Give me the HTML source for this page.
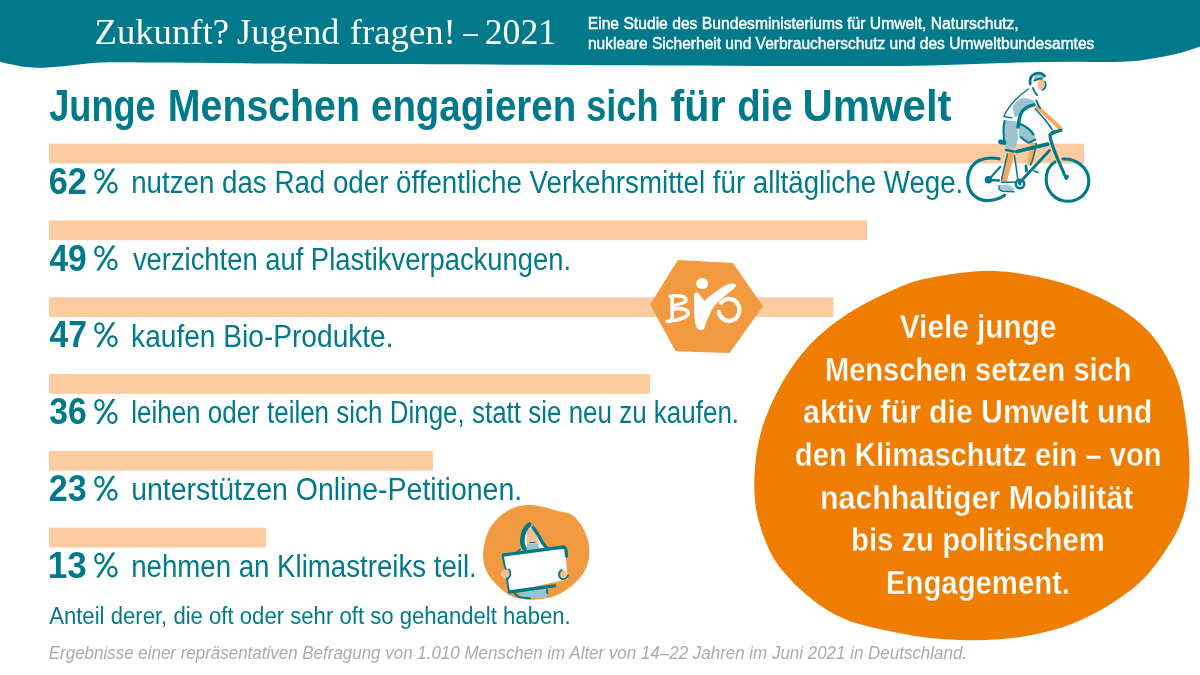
<!DOCTYPE html>
<html><head><meta charset="utf-8">
<style>
html,body{margin:0;padding:0;background:#fff;}
body{width:1200px;height:675px;overflow:hidden;position:relative;font-family:"Liberation Sans",sans-serif;}
svg{position:absolute;left:0;top:0;display:block;will-change:transform;}
</style></head><body>
<svg width="1200" height="675" viewBox="0 0 1200 675">
<path d="M0,0 H1200 V46.5 C1186,52 1166,57 1140,60.5 C1120,62.5 1100,62.3 1080,61.7 C1040,61.5 1000,63 960,64.4 C920,66 880,66 840,66 C700,66 500,64.5 360,64 C280,63.8 200,63 150,62.5 C120,62.2 105,62 90,63.2 C72,64.8 55,67.8 37.5,67.8 C22,67.5 10,64 0,61.7 Z" fill="#007a8a"/>
<g fill="#fccb9f">
<rect x="49" y="143.7" width="1035" height="19.7"/>
<rect x="49" y="220.5" width="818" height="19.7"/>
<rect x="49" y="297.3" width="784.5" height="19.7"/>
<rect x="49" y="374.1" width="601" height="19.7"/>
<rect x="49" y="450.9" width="384" height="19.7"/>
<rect x="49" y="527.7" width="217" height="19.7"/>
</g>
<text x="94.49" y="43.7" font-family='"Liberation Serif",serif' font-size="36" font-weight="normal" font-style="normal" fill="#fff" textLength="134.51" lengthAdjust="spacingAndGlyphs">Zukunft?</text>
<text x="237.14" y="43.7" font-family='"Liberation Serif",serif' font-size="36" font-weight="normal" font-style="normal" fill="#fff" textLength="102.30" lengthAdjust="spacingAndGlyphs">Jugend</text>
<text x="349.67" y="43.7" font-family='"Liberation Serif",serif' font-size="36" font-weight="normal" font-style="normal" fill="#fff" textLength="106.20" lengthAdjust="spacingAndGlyphs">fragen!</text>
<text x="463.49" y="43.7" font-family='"Liberation Serif",serif' font-size="36" font-weight="normal" font-style="normal" fill="#fff" textLength="14.21" lengthAdjust="spacingAndGlyphs">–</text>
<text x="484.68" y="43.7" font-family='"Liberation Serif",serif' font-size="36" font-weight="normal" font-style="normal" fill="#fff" textLength="71.47" lengthAdjust="spacingAndGlyphs">2021</text>
<text x="587.71" y="29" font-family='"Liberation Sans",sans-serif' font-size="17" font-weight="normal" font-style="normal" fill="#fff" textLength="430.99" lengthAdjust="spacingAndGlyphs" stroke="#fff" stroke-width="0.45">Eine Studie des Bundesministeriums für Umwelt, Naturschutz,</text>
<text x="587.97" y="49" font-family='"Liberation Sans",sans-serif' font-size="17" font-weight="normal" font-style="normal" fill="#fff" textLength="506.39" lengthAdjust="spacingAndGlyphs" stroke="#fff" stroke-width="0.45">nukleare Sicherheit und Verbraucherschutz und des Umweltbundesamtes</text>
<text x="49.15" y="121" font-family='"Liberation Sans",sans-serif' font-size="44" font-weight="bold" font-style="normal" fill="#007a8a" textLength="106.58" lengthAdjust="spacingAndGlyphs">Junge</text>
<text x="167.87" y="121" font-family='"Liberation Sans",sans-serif' font-size="44" font-weight="bold" font-style="normal" fill="#007a8a" textLength="192.06" lengthAdjust="spacingAndGlyphs">Menschen</text>
<text x="371.00" y="121" font-family='"Liberation Sans",sans-serif' font-size="44" font-weight="bold" font-style="normal" fill="#007a8a" textLength="205.14" lengthAdjust="spacingAndGlyphs">engagieren</text>
<text x="586.23" y="121" font-family='"Liberation Sans",sans-serif' font-size="44" font-weight="bold" font-style="normal" fill="#007a8a" textLength="72.26" lengthAdjust="spacingAndGlyphs">sich</text>
<text x="670.54" y="121" font-family='"Liberation Sans",sans-serif' font-size="44" font-weight="bold" font-style="normal" fill="#007a8a" textLength="55.08" lengthAdjust="spacingAndGlyphs">für</text>
<text x="737.18" y="121" font-family='"Liberation Sans",sans-serif' font-size="44" font-weight="bold" font-style="normal" fill="#007a8a" textLength="55.38" lengthAdjust="spacingAndGlyphs">die</text>
<text x="802.48" y="121" font-family='"Liberation Sans",sans-serif' font-size="44" font-weight="bold" font-style="normal" fill="#007a8a" textLength="149.03" lengthAdjust="spacingAndGlyphs">Umwelt</text>
<text x="48.74" y="193.8" font-family='"Liberation Sans",sans-serif' font-size="36" font-weight="bold" font-style="normal" fill="#007a8a" textLength="38.13" lengthAdjust="spacingAndGlyphs">62</text>
<g transform="translate(0,193.0)" fill="none" stroke="#007a8a" stroke-width="2.3"><path d="M96.2,0.6 L99.3,0.6 L115.3,-24.4 L112.2,-24.4Z" fill="#007a8a" stroke="none"/><ellipse cx="99.4" cy="-18.4" rx="4.1" ry="4.8"/><ellipse cx="112.4" cy="-5.4" rx="4.1" ry="4.8"/></g>
<text x="131.17" y="193.0" font-family='"Liberation Sans",sans-serif' font-size="31" font-weight="normal" font-style="normal" fill="#007a8a" textLength="832.16" lengthAdjust="spacingAndGlyphs">nutzen das Rad oder öffentliche Verkehrsmittel für alltägliche Wege.</text>
<text x="49.49" y="270.6" font-family='"Liberation Sans",sans-serif' font-size="36" font-weight="bold" font-style="normal" fill="#007a8a" textLength="37.25" lengthAdjust="spacingAndGlyphs">49</text>
<g transform="translate(0,269.8)" fill="none" stroke="#007a8a" stroke-width="2.3"><path d="M96.2,0.6 L99.3,0.6 L115.3,-24.4 L112.2,-24.4Z" fill="#007a8a" stroke="none"/><ellipse cx="99.4" cy="-18.4" rx="4.1" ry="4.8"/><ellipse cx="112.4" cy="-5.4" rx="4.1" ry="4.8"/></g>
<text x="132.91" y="269.8" font-family='"Liberation Sans",sans-serif' font-size="31" font-weight="normal" font-style="normal" fill="#007a8a" textLength="438.09" lengthAdjust="spacingAndGlyphs">verzichten auf Plastikverpackungen.</text>
<text x="49.49" y="347.40000000000003" font-family='"Liberation Sans",sans-serif' font-size="36" font-weight="bold" font-style="normal" fill="#007a8a" textLength="37.49" lengthAdjust="spacingAndGlyphs">47</text>
<g transform="translate(0,346.6)" fill="none" stroke="#007a8a" stroke-width="2.3"><path d="M96.2,0.6 L99.3,0.6 L115.3,-24.4 L112.2,-24.4Z" fill="#007a8a" stroke="none"/><ellipse cx="99.4" cy="-18.4" rx="4.1" ry="4.8"/><ellipse cx="112.4" cy="-5.4" rx="4.1" ry="4.8"/></g>
<text x="131.11" y="346.6" font-family='"Liberation Sans",sans-serif' font-size="31" font-weight="normal" font-style="normal" fill="#007a8a" textLength="262.46" lengthAdjust="spacingAndGlyphs">kaufen Bio-Produkte.</text>
<text x="49.23" y="424.2" font-family='"Liberation Sans",sans-serif' font-size="36" font-weight="bold" font-style="normal" fill="#007a8a" textLength="37.49" lengthAdjust="spacingAndGlyphs">36</text>
<g transform="translate(0,423.4)" fill="none" stroke="#007a8a" stroke-width="2.3"><path d="M96.2,0.6 L99.3,0.6 L115.3,-24.4 L112.2,-24.4Z" fill="#007a8a" stroke="none"/><ellipse cx="99.4" cy="-18.4" rx="4.1" ry="4.8"/><ellipse cx="112.4" cy="-5.4" rx="4.1" ry="4.8"/></g>
<text x="131.25" y="423.4" font-family='"Liberation Sans",sans-serif' font-size="31" font-weight="normal" font-style="normal" fill="#007a8a" textLength="607.82" lengthAdjust="spacingAndGlyphs">leihen oder teilen sich Dinge, statt sie neu zu kaufen.</text>
<text x="48.82" y="501.0" font-family='"Liberation Sans",sans-serif' font-size="36" font-weight="bold" font-style="normal" fill="#007a8a" textLength="37.91" lengthAdjust="spacingAndGlyphs">23</text>
<g transform="translate(0,500.2)" fill="none" stroke="#007a8a" stroke-width="2.3"><path d="M96.2,0.6 L99.3,0.6 L115.3,-24.4 L112.2,-24.4Z" fill="#007a8a" stroke="none"/><ellipse cx="99.4" cy="-18.4" rx="4.1" ry="4.8"/><ellipse cx="112.4" cy="-5.4" rx="4.1" ry="4.8"/></g>
<text x="131.15" y="500.2" font-family='"Liberation Sans",sans-serif' font-size="31" font-weight="normal" font-style="normal" fill="#007a8a" textLength="391.05" lengthAdjust="spacingAndGlyphs">unterstützen Online-Petitionen.</text>
<text x="47.79" y="577.8" font-family='"Liberation Sans",sans-serif' font-size="36" font-weight="bold" font-style="normal" fill="#007a8a" textLength="38.97" lengthAdjust="spacingAndGlyphs">13</text>
<g transform="translate(0,577.0)" fill="none" stroke="#007a8a" stroke-width="2.3"><path d="M96.2,0.6 L99.3,0.6 L115.3,-24.4 L112.2,-24.4Z" fill="#007a8a" stroke="none"/><ellipse cx="99.4" cy="-18.4" rx="4.1" ry="4.8"/><ellipse cx="112.4" cy="-5.4" rx="4.1" ry="4.8"/></g>
<text x="131.17" y="577.0" font-family='"Liberation Sans",sans-serif' font-size="31" font-weight="normal" font-style="normal" fill="#007a8a" textLength="345.56" lengthAdjust="spacingAndGlyphs">nehmen an Klimastreiks teil.</text>
<text x="49.16" y="623.9" font-family='"Liberation Sans",sans-serif' font-size="23" font-weight="normal" font-style="normal" fill="#007a8a" textLength="521.56" lengthAdjust="spacingAndGlyphs">Anteil derer, die oft oder sehr oft so gehandelt haben.</text>
<text x="48.78" y="658.7" font-family='"Liberation Sans",sans-serif' font-size="18" font-weight="normal" font-style="italic" fill="#ababab" textLength="918.30" lengthAdjust="spacingAndGlyphs">Ergebnisse einer repräsentativen Befragung von 1.010 Menschen im Alter von 14–22 Jahren im Juni 2021 in Deutschland.</text>
<path fill="#ee7d00" d="M995.0,271.0 C1016.4,272.1 1038.3,276.1 1059.0,282.0 C1078.0,287.4 1096.8,295.4 1114.0,305.0 C1127.1,312.4 1140.1,321.8 1150.0,333.0 C1160.4,344.8 1168.7,359.5 1175.0,374.0 C1180.4,386.5 1183.0,400.5 1185.0,414.0 C1187.8,432.5 1189.5,451.4 1189.5,470.0 C1189.5,483.4 1188.3,497.2 1185.0,510.0 C1182.1,521.2 1177.2,532.2 1171.0,542.0 C1161.5,556.9 1151.3,572.5 1138.0,584.0 C1121.0,598.7 1100.6,611.2 1080.0,620.5 C1061.3,628.9 1040.4,633.7 1020.0,637.0 C1000.4,640.2 980.0,640.6 960.0,640.0 C940.0,639.4 919.7,637.3 900.0,633.3 C878.0,628.8 854.4,625.0 835.0,614.6 C815.0,603.8 796.1,587.2 781.6,569.6 C770.8,556.6 763.9,539.2 759.2,522.8 C754.9,507.8 753.6,491.1 754.5,475.4 C755.5,456.8 758.4,437.4 764.8,420.0 C772.6,399.0 783.6,378.0 797.0,360.0 C808.7,344.3 824.0,330.3 840.0,319.0 C859.0,305.6 880.6,295.2 902.0,286.0 C914.0,280.9 927.1,278.1 940.0,276.0 C958.1,273.1 976.8,270.1 995.0,271.0Z"/>
<text x="899.80" y="338.0" font-family='"Liberation Sans",sans-serif' font-size="33.5" font-weight="bold" font-style="normal" fill="#fff" textLength="156.62" lengthAdjust="spacingAndGlyphs" stroke="#ee7d00" stroke-width="0.35">Viele junge</text>
<text x="825.06" y="380.7" font-family='"Liberation Sans",sans-serif' font-size="33.5" font-weight="bold" font-style="normal" fill="#fff" textLength="306.44" lengthAdjust="spacingAndGlyphs" stroke="#ee7d00" stroke-width="0.35">Menschen setzen sich</text>
<text x="803.11" y="423.3" font-family='"Liberation Sans",sans-serif' font-size="33.5" font-weight="bold" font-style="normal" fill="#fff" textLength="349.18" lengthAdjust="spacingAndGlyphs" stroke="#ee7d00" stroke-width="0.35">aktiv für die Umwelt und</text>
<text x="794.80" y="466.0" font-family='"Liberation Sans",sans-serif' font-size="33.5" font-weight="bold" font-style="normal" fill="#fff" textLength="366.81" lengthAdjust="spacingAndGlyphs" stroke="#ee7d00" stroke-width="0.35">den Klimaschutz ein – von</text>
<text x="820.00" y="508.7" font-family='"Liberation Sans",sans-serif' font-size="33.5" font-weight="bold" font-style="normal" fill="#fff" textLength="313.37" lengthAdjust="spacingAndGlyphs" stroke="#ee7d00" stroke-width="0.35">nachhaltiger Mobilität</text>
<text x="851.07" y="551.4" font-family='"Liberation Sans",sans-serif' font-size="33.5" font-weight="bold" font-style="normal" fill="#fff" textLength="253.74" lengthAdjust="spacingAndGlyphs" stroke="#ee7d00" stroke-width="0.35">bis zu politischem</text>
<text x="886.04" y="594.0" font-family='"Liberation Sans",sans-serif' font-size="33.5" font-weight="bold" font-style="normal" fill="#fff" textLength="183.98" lengthAdjust="spacingAndGlyphs" stroke="#ee7d00" stroke-width="0.35">Engagement.</text>
<path fill="#f29a40" d="M677.8,260.1 L732.9,263 L763,306.2 L729.6,353 L675.5,351.3 L650.1,304.6 Z"/>
<path fill="#f29a40" d="M483.1,553.6 C483.5,546.4 485.0,538.6 488.0,532.0 C490.7,526.1 495.1,520.3 500.0,516.0 C504.5,512.0 510.3,509.0 516.0,507.0 C520.7,505.3 526.0,504.9 531.0,505.0 C536.0,505.1 541.1,506.4 546.0,507.5 C549.4,508.2 552.7,509.5 556.0,510.5 C561.3,512.0 567.6,512.1 572.0,515.0 C576.6,518.0 580.3,523.1 583.0,528.0 C586.0,533.4 588.4,539.8 589.0,546.0 C589.7,552.5 589.2,559.9 587.0,566.0 C584.9,571.9 580.6,577.6 576.0,582.0 C570.3,587.4 563.3,592.6 556.0,595.5 C548.3,598.5 539.3,599.8 531.0,599.8 C524.0,599.8 516.3,598.4 510.0,595.5 C504.3,592.8 499.4,587.7 495.0,583.0 C491.4,579.2 487.9,574.8 486.0,570.0 C484.0,565.0 482.8,559.0 483.1,553.6Z"/>
<!-- BIO letters -->
<g fill="none" stroke="#fff" stroke-linecap="round" stroke-linejoin="round">
<path d="M672.2,297 L672.2,319" stroke-width="3.6"/>
<path d="M670.2,296.3 C676,295.5 683,295.5 685.6,298.5 C688,301.5 681,304.5 672.4,305.8" stroke-width="3.5"/>
<path d="M672.4,308.8 C679,308.3 687,308.5 688,312.2 C689,316.5 681,320 667.3,321.3" stroke-width="3.7"/>
</g>
<ellipse cx="702.2" cy="283.5" rx="6" ry="5.6" fill="#fff"/>
<path fill="#fff" d="M694.2,294.1 C695,292.5 696.5,292 697.6,292.5 C700,295 702.5,298.5 704.5,301 C708,297 711.5,294.5 715.1,291.9 C720,288.5 724,285.5 729,284 C732,283.2 735,283 736,285.2 C736.5,287 734,288.5 722.2,298.1 C716,303.5 712.5,308 710.7,312.3 C707.5,318.5 705.5,324 704.5,328.3 C703,330.5 699.5,330.5 698.2,329.2 C696.5,327.5 695.1,323 695.1,323 C694.5,318 694,314 694.2,310.6 C694.2,305 693.8,297 694.2,294.1Z"/>
<path d="M721.0,302.9 A10.4,11 0 1 1 718.8,311.9" fill="none" stroke="#fff" stroke-width="4.2" stroke-linecap="round"/>

<!-- cyclist -->
<g stroke-linecap="round" stroke-linejoin="round">
<path fill="#9cc4d0" d="M1034.5,74.5 C1038,73.5 1042,74.5 1043.8,77 L1043,80.5 C1040,80 1037,80.5 1034,82Z"/>
<path fill="#9cc4d0" d="M1012.5,106 C1016,101 1020,98.5 1024,98 C1028,98.5 1032,99.5 1034.5,101 L1034,105.5 C1028,107 1022,110.5 1019.5,115 L1014.5,117.5Z"/>
<path fill="#9cc4d0" d="M1004.5,120 L1017,121.5 L1018,139 L1015,148.5 L1006,149 L1003.5,135 Z"/>
<path fill="#9cc4d0" d="M1019,123 C1025,125 1030,128 1033.5,132.5 L1035.6,139.5 L1028,143 C1024,141 1021,138 1019,135Z"/>
<path fill="#f7c08e" d="M1038.5,80.5 C1041,78.5 1045,79 1045.8,83 C1046.2,87 1044,90 1040,89.8 C1037.5,88.5 1037,83 1038.5,80.5Z"/>
<path d="M1037.5,107 L1061,129" stroke="#f4a862" stroke-width="3.8" fill="none"/>
<path d="M1008.5,153.5 L1013,154 L1006,181 L1002,180.5Z" fill="#f4a862" stroke="#f4a862" stroke-width="2"/>
<path d="M1031,143 L1035.5,144 L1031.5,164.5 L1028,164Z" fill="#f4a862" stroke="#f4a862" stroke-width="1.5"/>
<path fill="#a8cad5" d="M999,185 L1008,184.5 L1014.5,189 L1012,191.8 L999.5,190Z"/>
<g fill="none" stroke="#007a8a">
<path d="M1030.2,84 C1029.5,79 1030.5,75.5 1035,73.8 C1039,72.5 1042.5,73.5 1044.6,76" stroke-width="2.8"/>
<path d="M1034.5,80.5 C1036.5,79 1039,78.5 1042,78.5" stroke-width="1.8"/>
<path d="M1045,81.5 C1046.4,84.5 1046.2,88 1042.5,90.2" stroke-width="1.6"/>
<path d="M1033,88 C1034,91 1035.5,93.5 1037,95" stroke-width="1.9"/>
<path d="M1028.4,89 C1018,96 1009,106 1004.1,115.6" stroke-width="1.4"/>
<path d="M1004,116.5 L1012,117.8" stroke-width="1.3"/>
<path d="M1034,104.8 C1028,106 1022.5,109 1020.5,114.5 C1019.2,118.5 1018.5,123 1018,127" stroke-width="3.4"/>
<path d="M1036.3,100.5 C1037.5,104 1039,106.5 1040,108" stroke-width="2"/>
<path d="M1035.2,108.8 C1042,116 1048,123 1052,129.5" stroke-width="1.6"/>
<path d="M1049.5,135 C1053.5,133 1057.5,131.2 1061,130.6" stroke-width="2.6"/>
<path d="M1004.5,121 C1003,128 1003.2,135 1004.5,143" stroke-width="2"/>
<path d="M1019.5,123.5 C1026,126.5 1031,130 1033.5,134.5" stroke-width="2.2"/>
<path d="M1020.5,137 C1024,140 1027,142 1028.5,142.8 L1035.5,139.5" stroke-width="2"/>
<path d="M1006,150 L1014,151.5" stroke-width="2.4"/>
<path d="M1000.5,141.8 L1004,142.5" stroke-width="4.8"/>
<path d="M1007.5,154 C1005.5,162 1003,172 1001.5,180" stroke-width="1.5"/>
<path d="M1014.5,156 C1016,165 1017,174 1018,181" stroke-width="1.5"/>
<path d="M1036.2,143.5 C1035,150 1034,158 1030.5,165" stroke-width="1.6"/>
<path d="M1026,166 L1026.5,171" stroke-width="2.8"/>
<path d="M999,186 C998.5,189 999,190.5 1003,191.2 L1014,191.8" stroke-width="1.5"/>
<path d="M1016.9,151.5 L1047.7,144.2" stroke-width="3.8"/>
<path d="M1049.5,150.5 L1019.3,183" stroke-width="2.9"/>
<path d="M1050.1,137.1 C1052,146 1055,152 1057.2,157.9 L1066.2,178.5 L1067.5,176.5" stroke-width="3.1"/>
<path d="M1050.1,137.1 C1050.4,134 1051,132.5 1053,131.8 L1061,130" stroke-width="2.6"/>
<path d="M990.8,177.4 L1000.3,166.7" stroke-width="2.1"/>
<path d="M990,180 L999,180.5" stroke-width="2.4"/>
<path d="M1001.5,182.3 L1016,182.3" stroke-width="1.6"/>
<path d="M1034,171 L1038,172.5" stroke-width="1.8"/>
<circle cx="1020" cy="184" r="4.2" stroke-width="2.6"/>
<path d="M999.1,158.8 C994,157.8 986,157.5 979,160.5 C970,165 966.8,175 968,184 C969.5,194 978,201 988.5,200.5 C996,200 1001.5,197.5 1004.5,195.2" stroke-width="3.2"/>
<path d="M1063.1,159 C1076,158.5 1088,167 1088.8,180 C1089.3,193 1079,201.5 1067.3,201.3 C1055,201 1046.5,191 1046.2,180 C1046,171 1050,165 1054.8,162" stroke-width="3.1"/>
</g>
<circle cx="988.5" cy="179.8" r="3.8" fill="#007a8a"/>
<circle cx="1020" cy="184" r="1.5" fill="#007a8a"/>
</g>

<!-- climate strike person -->
<g stroke-linecap="round" stroke-linejoin="round">
<path fill="#fff" d="M529,524.5 C526,530 522.5,538 523,548 L547,548.5 C543,540 536,530 531,524.5Z"/>
<path fill="#f7c08e" d="M526.5,530 C529,527.5 533,528 535.5,532 C537,536 538,540 538.5,543.5 L526.5,543.5Z"/>
<path fill="#9cc4d0" d="M527,543.5 L538.8,543.5 L539,550.8 L527,550.8Z"/>
<path fill="#fff" d="M502.7,554.4 L564.9,546.7 L567.9,579.3 L509.2,592.3Z"/>
<path fill="#9cc4d0" d="M518.7,591 L547.1,588 L547.1,598 L520,598Z"/>
<circle cx="505.7" cy="573.9" r="4.8" fill="#f7c08e"/>
<circle cx="562.2" cy="573.9" r="4.5" fill="#f7c08e"/>
<g fill="none" stroke="#007a8a">
<path d="M529.4,524.7 C525,528 522.7,533.5 522.3,540 C522,544 523,546.5 524.6,548.4" stroke-width="4.6"/>
<path d="M533,527.5 C535,530 537,533 538.8,536 C540.8,540 543.5,545 547.1,548.4" stroke-width="3.4"/>
<path d="M529.5,542.5 L535,542.5" stroke-width="1.2"/>
<path d="M515.7,553.2 L519.9,549.6" stroke-width="1.5"/>
<path d="M503.3,555 L563.7,547 C565.5,547.5 566,549.5 566.2,552 L566.5,556" stroke-width="3.3"/>
<path d="M502.7,555.5 C504,563 505,568 505.8,569" stroke-width="2"/>
<path d="M507,578.5 C507.5,584 508.5,589 509.2,592" stroke-width="2"/>
<path d="M509.5,592 L554.5,585.8" stroke-width="3.3"/>
<path d="M509,569.5 C511,571.5 511,576.5 508,578.5" stroke-width="1.8"/>
<path d="M561.5,570 C558.5,572 558,577.5 562,579 C565,579.5 567.5,577.5 567.8,575.5" stroke-width="1.8"/>
<path d="M515,593.5 C516.5,597 519,597.5 530,598.2" stroke-width="2"/>
<path d="M547,590 L547.3,593" stroke-width="2"/>
</g>
</g>

</svg>
</body></html>
